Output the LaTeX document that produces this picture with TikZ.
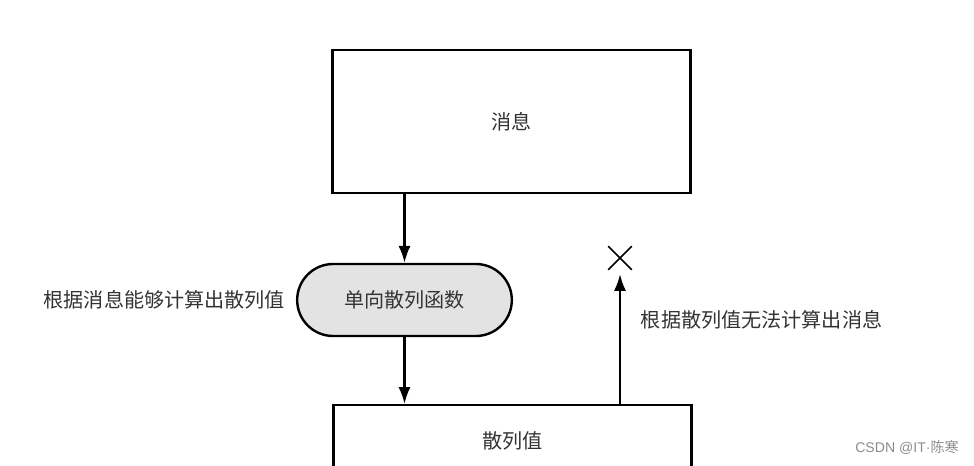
\documentclass[tikz,border=0pt]{standalone}
\usepackage{fontspec}
\setmainfont{Noto Sans CJK SC}
\newfontfamily\latinfont{Liberation Sans}
\usetikzlibrary{shapes.misc,positioning,arrows.meta}
\tikzset{
    box/.style={draw, line width=1.7pt, minimum width=8.95cm, minimum height=3.575cm},
    pill/.style={draw, rounded rectangle, line width=1.7pt, fill=gray!22, minimum width=5.6cm, minimum height=1.8cm},
    note/.style={font=\fontsize{14.3}{17}\selectfont, text=black!80},
    flow/.style={line width=1.6pt, -{Latex[length=0.42cm, width=0.3cm]}},
}
\begin{document}
\begin{tikzpicture}[x=0.025cm,y=-0.025cm]
        \clip (0,0) rectangle (974,466);
        \node[box, note] (msg) at (511.5,121.5) {消息};
        \node[pill, note] (func) at (404.5,300) {单向散列函数};
        \node[box, note, minimum height=1.8cm, anchor=north] (hash) at (512.5,404) {散列值};
        \node[cross out, draw, line width=1.2pt, minimum size=0.55cm] (nope) at (620,258) {};
        \draw [flow] (func.north |- msg.south)--(func.north);
        \draw [flow] (func.south)--(func.south |- hash.north);
        \draw [flow, shorten >=0.4cm] (nope.south |- hash.north)--(nope.center);
        \node[note, left=0.15cm of func.west] (yes) {根据消息能够计算出散列值};
        \node[note, anchor=west] (no) at (636,320) {根据散列值无法计算出消息};
        \node[font=\fontsize{10}{12}\selectfont, text=black!45] (mark) at (907,448) {{\latinfont CSDN @IT·}陈寒};
    \end{tikzpicture}
\end{document}
